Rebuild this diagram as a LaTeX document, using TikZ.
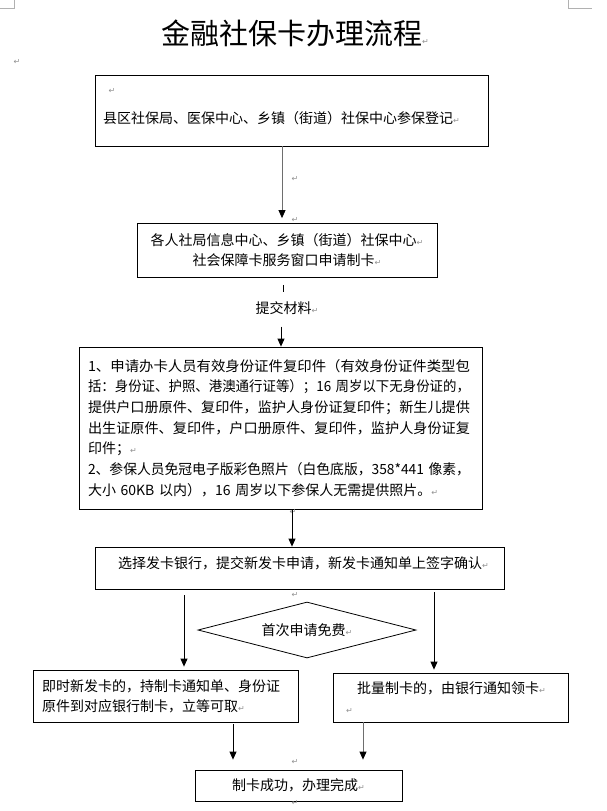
\documentclass[tikz,border=0pt]{standalone}
\usepackage{fontspec}
\usepackage{graphicx}
\setmainfont{Noto Sans CJK SC}
\newfontfamily\markfont{DejaVu Sans}
\usetikzlibrary{arrows.meta,shapes.geometric}
\definecolor{markgray}{HTML}{909090}
\definecolor{linegray}{HTML}{6E6E6E}
\newcommand{\pmark}{{\markfont\fontsize{8}{8}\selectfont\textcolor{markgray}{↵}}}
\newcommand{\fullline}[1]{\resizebox{382pt}{\height}{#1}}
\begin{document}
\begin{tikzpicture}[x=1pt, y=-1pt,
    box/.style={draw, line width=0.8pt, font=\fontsize{14}{20}\selectfont},
    txt/.style={inner sep=0pt, font=\fontsize{14}{20}\selectfont},
    pm/.style={inner sep=0pt},
    arr/.style={line width=0.8pt, -{Triangle[width=7pt,length=8pt,color=black]}}]
\useasboundingbox (0,0) rectangle (606,811);
% page corners
\draw[markgray!70] (0,8) -- (14,8) -- (14,0);
\draw[markgray!70] (568,0) -- (568,8) -- (592,8);

\node[anchor=west, inner sep=0pt, font=\fontsize{29}{29}\selectfont] (title) at (161,33) {金融社保卡办理流程\pmark};
\node[pm] (m0) at (17,62) {\pmark};

% registration
\node[box, minimum width=393, minimum height=71] (reg) at (291.5,110.5) {};
\node[pm] (m1) at (112,91) {\pmark};
\node[txt, anchor=west] (regtext) at (103,118) {县区社保局、医保中心、乡镇（街道）社保中心参保登记\pmark};
\node[pm] (m2) at (295,179) {\pmark};
\node[pm] (m3) at (295,220) {\pmark};

% application window
\node[box, minimum width=300, minimum height=54, align=center] (apply) at (287,250.5) {各人社局信息中心、乡镇（街道）社保中心\pmark\\社会保障卡服务窗口申请制卡\pmark};
\node[txt] (sub) at (287,308) {提交材料\pmark};

% materials
\node[box, minimum width=403, minimum height=162, text width=385, inner xsep=9, align=left, font=\fontsize{14}{20.7}\selectfont] (docs) at (280.5,428) {\fullline{1、申请办卡人员有效身份证件复印件（有效身份证件类型包}\\\fullline{括：身份证、护照、港澳通行证等）；16 周岁以下无身份证的，}\\\fullline{提供户口册原件、复印件，监护人身份证复印件；新生儿提供}\\\fullline{出生证原件、复印件，户口册原件、复印件，监护人身份证复}\\印件；\pmark\\\fullline{2、参保人员免冠电子版彩色照片（白色底版，358*441 像素，}\\大小 60KB 以内），16 周岁以下参保人无需提供照片。\pmark};
\node[pm] (m4) at (293,512) {\pmark};

% bank choice
\node[box, minimum width=409, minimum height=42] (bank) at (299.5,568) {};
\node[txt, anchor=west] (banktext) at (118,563) {选择发卡银行，提交新发卡申请，新发卡通知单上签字确认\pmark};
\node[pm] (m5) at (295,595) {\pmark};
\node[draw, diamond, line width=0.8pt, aspect=3.9, minimum width=218, minimum height=56, inner sep=0pt, font=\fontsize{14}{20}\selectfont] (free) at (307,630) {首次申请免费\pmark};

% two ways
\node[box, minimum width=265, minimum height=52, text width=247, inner xsep=9, align=left] (instant) at (165.5,696) {即时新发卡的，持制卡通知单、身份证\\原件到对应银行制卡，立等可取\pmark};
\node[box, minimum width=235, minimum height=49, text width=209, inner xsep=13, align=left] (batch) at (450.5,697.5) {\hspace*{11pt}批量制卡的，由银行通知领卡\pmark\\\pmark};

% end
\node[box, minimum width=207, minimum height=31] (done) at (298.5,785.5) {制卡成功，办理完成\pmark};
\node[pm] (m6) at (295,762) {\pmark};
\node[pm] (m7) at (295,803) {\pmark};

% connectors
\coordinate (c1) at (282,0);
\coordinate (c2) at (283,0);
\coordinate (c3) at (281,0);
\coordinate (c4) at (292,0);
\coordinate (lx) at (184,0);
\coordinate (rx) at (434,0);
\coordinate (dl) at (233,0);
\coordinate (dr) at (363,0);
\draw[arr, linegray, shorten >=5pt] (reg.south -| c1) -- (apply.north -| c1);
\draw[line width=0.8pt] (apply.south -| c2) ++(0,7) -- ++(0,7);
\draw[arr] (sub.south -| c3) ++(0,12) -- (docs.north -| c3);
\draw[arr] (docs.south -| c4) -- (bank.north -| c4);
\draw[arr, shorten <=6pt, shorten >=3pt] (bank.south -| lx) -- (instant.north -| lx);
\draw[arr, shorten <=3pt, shorten >=3pt] (bank.south -| rx) -- (batch.north -| rx);
\draw[arr, shorten <=2pt, shorten >=10pt] (instant.south -| dl) -- (done.north -| dl);
\draw[arr, linegray, shorten >=10pt] (batch.south -| dr) -- (done.north -| dr);
\end{tikzpicture}
\end{document}
